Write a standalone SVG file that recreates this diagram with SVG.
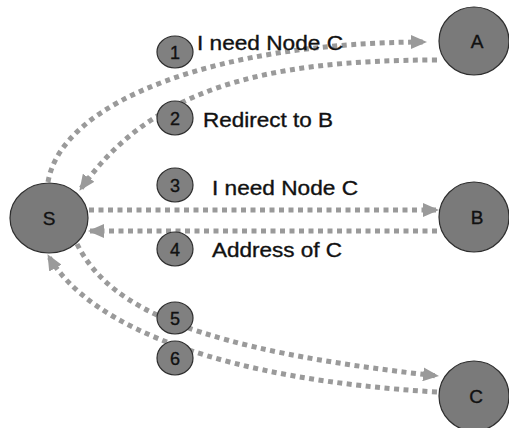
<svg xmlns="http://www.w3.org/2000/svg" width="509" height="428" viewBox="0 0 509 428">
  <style>
    .node { fill: #7a7a7a; stroke: #2e2e2e; stroke-width: 1.2; }
    .step { fill: #808080; stroke: #2e2e2e; stroke-width: 1.2; }
    .link { fill: none; stroke: #9a9a9a; stroke-width: 5; stroke-dasharray: 5 4.5; }
    text { font-family: "Liberation Sans", Arial, sans-serif; fill: #111; stroke: #111; stroke-width: 0.35; }
    .lbl { font-size: 19px; text-anchor: middle; }
    .num { font-size: 18px; text-anchor: middle; }
    .msg { font-size: 20px; }
  </style>
  <defs>
    <marker id="arrow" viewBox="0 0 16 14" refX="15" refY="7" markerWidth="16" markerHeight="14" markerUnits="userSpaceOnUse" orient="auto">
      <path d="M0,0 L16,7 L0,14 Z" fill="#9a9a9a"/>
    </marker>
  </defs>
  <rect width="509" height="428" fill="#ffffff"/>

  <g id="connectors">
    <!-- 1: S to A -->
    <path class="link" d="M48,182 C62,100 220,42 426,42" marker-end="url(#arrow)"/>
    <!-- 2: A to S -->
    <path class="link" d="M437,60 C260,60 150,90 80,190" marker-end="url(#arrow)"/>
    <!-- 3: S to B -->
    <path class="link" d="M89,210 L438,210" marker-end="url(#arrow)"/>
    <!-- 4: B to S -->
    <path class="link" d="M437,231 L89,231" marker-end="url(#arrow)"/>
    <!-- 5: S to C -->
    <path class="link" d="M77,244 C110,310 200,350 438,376" marker-end="url(#arrow)"/>
    <!-- 6: C to S -->
    <path class="link" d="M437,392 C230,380 90,330 48,255" marker-end="url(#arrow)"/>
  </g>

  <g id="node-S">
    <ellipse class="node" cx="49" cy="218" rx="39" ry="35"/>
    <text class="lbl" x="49" y="225">S</text>
  </g>
  <g id="node-A">
    <ellipse class="node" cx="474" cy="41" rx="35" ry="34"/>
    <text class="lbl" x="477" y="48">A</text>
  </g>
  <g id="node-B">
    <ellipse class="node" cx="474" cy="217" rx="35" ry="35"/>
    <text class="lbl" x="477" y="224">B</text>
  </g>
  <g id="node-C">
    <ellipse class="node" cx="474" cy="396" rx="35" ry="35"/>
    <text class="lbl" x="476" y="403">C</text>
  </g>

  <g id="step-1">
    <ellipse class="step" cx="175" cy="52" rx="18" ry="16"/>
    <text class="num" x="175" y="59">1</text>
    <text class="msg" x="197" y="50" textLength="146" lengthAdjust="spacingAndGlyphs">I need Node C</text>
  </g>
  <g id="step-2">
    <ellipse class="step" cx="175" cy="118" rx="18" ry="17"/>
    <text class="num" x="175" y="125">2</text>
    <text class="msg" x="203" y="127" textLength="130" lengthAdjust="spacingAndGlyphs">Redirect to B</text>
  </g>
  <g id="step-3">
    <ellipse class="step" cx="175" cy="185" rx="18" ry="17"/>
    <text class="num" x="175" y="192">3</text>
    <text class="msg" x="212" y="195" textLength="146" lengthAdjust="spacingAndGlyphs">I need Node C</text>
  </g>
  <g id="step-4">
    <ellipse class="step" cx="175" cy="249" rx="18" ry="17"/>
    <text class="num" x="175" y="256">4</text>
    <text class="msg" x="212" y="257" textLength="130" lengthAdjust="spacingAndGlyphs">Address of C</text>
  </g>
  <g id="step-5">
    <ellipse class="step" cx="175" cy="318" rx="18" ry="16"/>
    <text class="num" x="175" y="325">5</text>
  </g>
  <g id="step-6">
    <ellipse class="step" cx="175" cy="358" rx="18" ry="17"/>
    <text class="num" x="175" y="365">6</text>
  </g>
</svg>
